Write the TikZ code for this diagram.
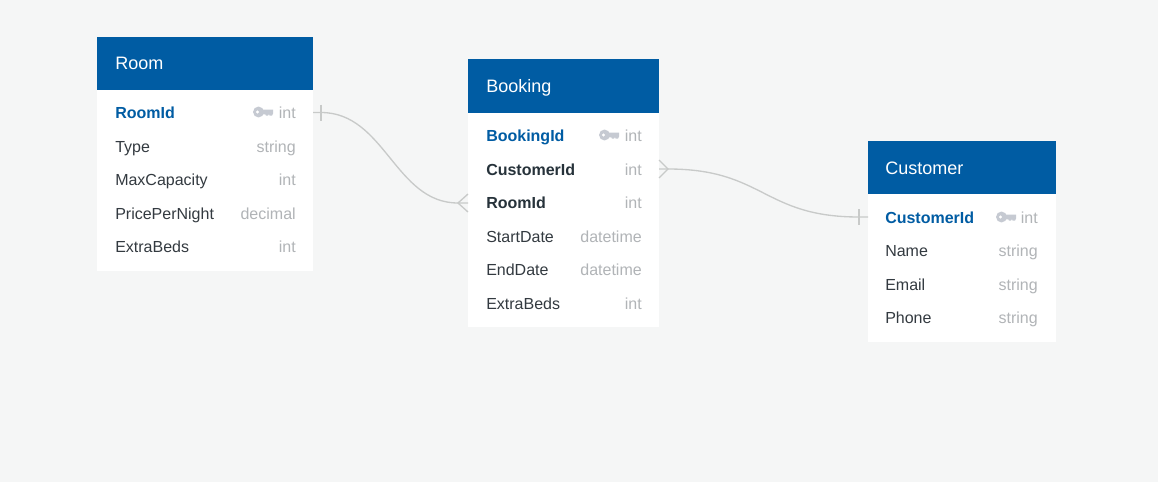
\documentclass[tikz,border=0pt]{standalone}
\usepackage{fontspec}
\setmainfont{Liberation Sans}
\usepackage{xcolor}
\usetikzlibrary{arrows.meta,positioning,calc}

\definecolor{canvasbg}{HTML}{F5F6F6}
\definecolor{headblue}{HTML}{005CA3}
\definecolor{fieldtext}{HTML}{333A40}
\definecolor{fkeytext}{HTML}{26323A}
\definecolor{typetext}{HTML}{B1B4B7}
\definecolor{keygray}{HTML}{C6CAD2}
\definecolor{linkgray}{HTML}{C8CAC9}

\tikzset{
	boxsize/.style 2 args={minimum width=#1*0.75pt,minimum height=#2*0.75pt},
	headbox/.style={fill=headblue,inner sep=0pt,anchor=north west},
	bodybox/.style={fill=white,inner sep=0pt,anchor=north west},
	titletext/.style={text=white,font=\fontsize{13.5pt}{16pt}\selectfont,inner sep=0pt,anchor=base west},
	fieldname/.style={text=fieldtext,font=\fontsize{12pt}{14pt}\selectfont,inner sep=0pt,anchor=base west},
	pkname/.style={fieldname,text=headblue,font=\fontsize{12pt}{14pt}\selectfont\bfseries},
	fkname/.style={fieldname,text=fkeytext,font=\fontsize{12pt}{14pt}\selectfont\bfseries},
	fieldtype/.style={text=typetext,font=\fontsize{12pt}{14pt}\selectfont,inner sep=0pt,anchor=base east},
	link/.style={draw=linkgray,line width=1pt},
}

% key symbol, #1 = left end, #2 = middle height
\newcommand{\keysymbol}[2]{
	\begin{scope}[shift={(#1,#2)}]
		\fill[keygray,even odd rule] (5.5,0) circle [radius=4.1pt] (4.6,0) circle [radius=1.4pt];
		\fill[keygray] (9,-2.4)--(20,-2.4)--(20,1.6)--(19,3.6)--(16.6,3.6)--(16,2)--(15,3.6)--(13,3.6)--(12.4,2.4)--(9,2.4)--cycle;
	\end{scope}
}

\begin{document}
\begin{tikzpicture}[x=0.75pt,y=-0.75pt]
	\fill[canvasbg] (0,0) rectangle (1158,482);
	
	% Room
	\node[bodybox,boxsize={216}{181}] (roombody) at (97,90) {};
	\node[headbox,boxsize={216}{53}] (roomhead) at (97,37) {};
	\node[titletext] (roomtitle) at (115,69) {Room};
	\node[pkname] (roompk) at (115,118) {RoomId};
	\node[fieldtype] (roompktype) at (296,118) {int};
	\keysymbol{253}{112}
	\foreach \y/\field/\kind in {152/Type/string,185/MaxCapacity/int,219/PricePerNight/decimal,252/ExtraBeds/int}{
		\node[fieldname] (room\field) at (115,\y) {\field};
		\node[fieldtype] (room\field type) at (296,\y) {\kind};
	}
	
	% Booking
	\node[bodybox,boxsize={191}{214}] (bookingbody) at (468,113) {};
	\node[headbox,boxsize={191}{54}] (bookinghead) at (468,59) {};
	\node[titletext] (bookingtitle) at (486,92) {Booking};
	\node[pkname] (bookingpk) at (486,141) {BookingId};
	\node[fieldtype] (bookingpktype) at (642,141) {int};
	\keysymbol{599}{135}
	\foreach \y/\field in {175/CustomerId,208/RoomId}{
		\node[fkname] (booking\field) at (486,\y) {\field};
		\node[fieldtype] (booking\field type) at (642,\y) {int};
	}
	\foreach \y/\field/\kind in {242/StartDate/datetime,275/EndDate/datetime,309/ExtraBeds/int}{
		\node[fieldname] (booking\field) at (486,\y) {\field};
		\node[fieldtype] (booking\field type) at (642,\y) {\kind};
	}
	
	% Customer
	\node[bodybox,boxsize={188}{148}] (customerbody) at (868,194) {};
	\node[headbox,boxsize={188}{53}] (customerhead) at (868,141) {};
	\node[titletext] (customertitle) at (885,174) {Customer};
	\node[pkname] (customerpk) at (885,223) {CustomerId};
	\node[fieldtype] (customerpktype) at (1038,223) {int};
	\keysymbol{996}{217}
	\foreach \y/\field in {256/Name,290/Email,323/Phone}{
		\node[fieldname] (customer\field) at (885,\y) {\field};
		\node[fieldtype] (customer\field type) at (1038,\y) {string};
	}
	
	% Room to Booking
	\coordinate (roomport) at (313,112.5);
	\coordinate (roombar) at (321,112.5);
	\coordinate (bookingfork) at (458,203);
	\coordinate (bookingport) at (468,203);
	\draw[link] (roomport)--(roombar) .. controls (385,112.5) and (395,203) .. (bookingfork)--(bookingport);
	\draw[link] ($(roombar)+(0,-8)$)--($(roombar)+(0,8)$);
	\draw[link] ($(bookingport)+(0,-9)$)--(bookingfork)--($(bookingport)+(0,9)$);
	
	% Booking to Customer
	\coordinate (customerport) at (868,217);
	\coordinate (customerbar) at (859,217);
	\coordinate (orderfork) at (668,169);
	\coordinate (orderport) at (659,169);
	\draw[link] (orderport)--(orderfork) .. controls (764,169) and (763,217) .. (customerbar)--(customerport);
	\draw[link] ($(customerbar)+(0,-8)$)--($(customerbar)+(0,8)$);
	\draw[link] ($(orderport)+(0,-9)$)--(orderfork)--($(orderport)+(0,9)$);
\end{tikzpicture}
\end{document}
